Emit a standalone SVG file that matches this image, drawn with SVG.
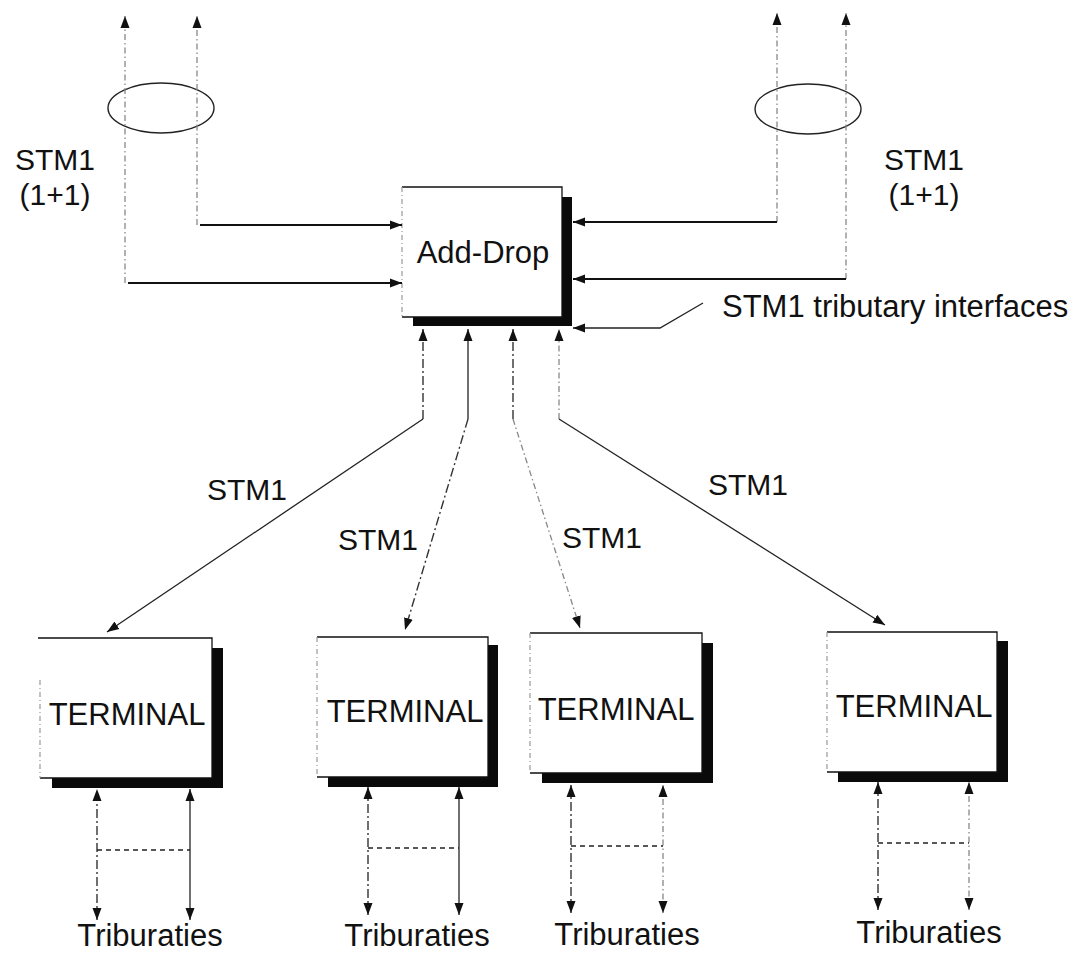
<svg xmlns="http://www.w3.org/2000/svg" width="1089" height="956" viewBox="0 0 1089 956">
<style>
.t{font-family:"Liberation Sans",Arial,sans-serif;fill:#111}
.f31{font-size:31px}
.f30{font-size:30px}
.sol{stroke:#111;stroke-width:1.8;fill:none}
.thin{stroke:#222;stroke-width:1.3;fill:none}
.dd{stroke:#333;stroke-width:1.4;fill:none;stroke-dasharray:9 3 2 3}
.lt{stroke:#888;stroke-width:1.3;fill:none;stroke-dasharray:6 3 1.5 3}
.dsh{stroke:#222;stroke-width:1.3;fill:none;stroke-dasharray:5 4}
.edge{stroke:#111;stroke-width:1.3;fill:none}
.ledge{stroke:#999;stroke-width:1.2;fill:none;stroke-dasharray:5 3 1 3}
.shadow{fill:#0a0a0a}
.box{fill:#fff}
</style>
<defs>
<marker id="ah" viewBox="0 0 12 10" refX="12" refY="5" markerWidth="12" markerHeight="10" markerUnits="userSpaceOnUse" orient="auto-start-reverse">
<path d="M0,0.5 L12,5 L0,9.5 z" fill="#111"/>
</marker>
</defs>

<g id="adddrop">
<rect class="shadow" x="413" y="197" width="159" height="129"/>
<rect class="box" x="402" y="187" width="160" height="130"/>
<path class="edge" d="M402,187 H562 V317 H402"/>
<path class="ledge" d="M402,187 V317"/>
<text class="t f31" x="483" y="263" text-anchor="middle">Add-Drop</text>
</g>

<g id="terminal1">
<rect class="shadow" x="52" y="648" width="171" height="140"/>
<rect class="box" x="40" y="638" width="172" height="140"/>
<path class="edge" d="M38,638 H212 V778 H40"/>
<path class="ledge" d="M40,680 V778"/>
<text class="t f31" x="127" y="725" text-anchor="middle">TERMINAL</text>
</g>
<g id="terminal2">
<rect class="shadow" x="328" y="645" width="170" height="142"/>
<rect class="box" x="317" y="637" width="171" height="140"/>
<path class="edge" d="M317,637 H488 V777 H317"/>
<path class="ledge" d="M317,637 V777"/>
<text class="t f31" x="405" y="722" text-anchor="middle">TERMINAL</text>
</g>
<g id="terminal3">
<rect class="shadow" x="542" y="643" width="171" height="140"/>
<rect class="box" x="530" y="633" width="172" height="140"/>
<path class="edge" d="M530,633 H702 V773 H530"/>
<path class="ledge" d="M530,633 V773"/>
<text class="t f31" x="616" y="720" text-anchor="middle">TERMINAL</text>
</g>
<g id="terminal4">
<rect class="shadow" x="838" y="641" width="170" height="141"/>
<rect class="box" x="827" y="632" width="170" height="140"/>
<path class="edge" d="M827,632 H997 V772 H827"/>
<path class="ledge" d="M827,632 V772"/>
<text class="t f31" x="914" y="717" text-anchor="middle">TERMINAL</text>
</g>

<g id="links">
<ellipse cx="161" cy="108" rx="53" ry="25" fill="none" stroke="#222" stroke-width="1.4"/>
<path class="lt" d="M125,283 V16" marker-end="url(#ah)"/>
<path class="lt" d="M197,225 V16" marker-end="url(#ah)"/>
<path class="sol" d="M200,225 H402" marker-end="url(#ah)"/>
<path class="sol" d="M128,283 H402" marker-end="url(#ah)"/>
<ellipse cx="808" cy="109" rx="53" ry="25" fill="none" stroke="#222" stroke-width="1.4"/>
<path class="lt" d="M777,222 V13" marker-end="url(#ah)"/>
<path class="lt" d="M846,279 V13" marker-end="url(#ah)"/>
<path class="sol" d="M777,222 H573" marker-end="url(#ah)"/>
<path class="sol" d="M846,279 H573" marker-end="url(#ah)"/>
<path class="thin" d="M703,303 L660,328 H573" marker-end="url(#ah)"/>
<path class="dd" d="M423,419 V329" marker-end="url(#ah)"/>
<path class="thin" d="M423,419 L107,632" marker-end="url(#ah)"/>
<path class="thin" d="M468,419 V329" marker-end="url(#ah)"/>
<path class="dd" d="M468,419 L405,630" marker-end="url(#ah)"/>
<path class="dd" d="M513,419 V329" marker-end="url(#ah)"/>
<path class="lt" d="M513,419 L580,628" marker-end="url(#ah)"/>
<path class="lt" d="M559,419 V329" marker-end="url(#ah)"/>
<path class="thin" d="M559,419 L885,625" marker-end="url(#ah)"/>
<path class="dd" d="M97,920 V789" marker-start="url(#ah)" marker-end="url(#ah)"/>
<path class="thin" d="M190,920 V789" marker-start="url(#ah)" marker-end="url(#ah)"/>
<path class="dsh" d="M97,850 H190"/>
<path class="dd" d="M368,915 V787" marker-start="url(#ah)" marker-end="url(#ah)"/>
<path class="thin" d="M459,915 V787" marker-start="url(#ah)" marker-end="url(#ah)"/>
<path class="dsh" d="M368,848 H459"/>
<path class="dd" d="M571,913 V785" marker-start="url(#ah)" marker-end="url(#ah)"/>
<path class="lt" d="M663,913 V785" marker-start="url(#ah)" marker-end="url(#ah)"/>
<path class="dsh" d="M571,846 H663"/>
<path class="dd" d="M878,910 V782" marker-start="url(#ah)" marker-end="url(#ah)"/>
<path class="lt" d="M969,910 V782" marker-start="url(#ah)" marker-end="url(#ah)"/>
<path class="dsh" d="M878,843 H969"/>
</g>

<g id="labels">
<text class="t f30" x="55" y="170" text-anchor="middle">STM1</text>
<text class="t f30" x="55" y="205" text-anchor="middle">(1+1)</text>
<text class="t f30" x="924" y="170" text-anchor="middle">STM1</text>
<text class="t f30" x="924" y="205" text-anchor="middle">(1+1)</text>
<text class="t f31" x="722" y="317">STM1 tributary interfaces</text>
<text class="t f30" x="207" y="500">STM1</text>
<text class="t f30" x="338" y="550">STM1</text>
<text class="t f30" x="562" y="548">STM1</text>
<text class="t f30" x="708" y="495">STM1</text>
<text class="t f31" x="150" y="946" text-anchor="middle">Triburaties</text>
<text class="t f31" x="417" y="946" text-anchor="middle">Triburaties</text>
<text class="t f31" x="627" y="945" text-anchor="middle">Triburaties</text>
<text class="t f31" x="929" y="943" text-anchor="middle">Triburaties</text>
</g>
</svg>
